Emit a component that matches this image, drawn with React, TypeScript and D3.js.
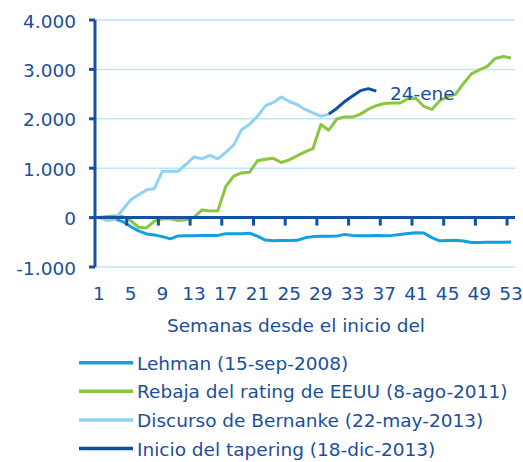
import React, { useRef, useEffect } from 'react'
import * as d3 from 'd3'

// weeks since event start
const weeks = d3.range(1, 54)
const xTickLabels = [1, 5, 9, 13, 17, 21, 25, 29, 33, 37, 41, 45, 49, 53]
const yTicks = [-1000, 0, 1000, 2000, 3000, 4000]

const lehman = [
  0, -15, -25, -80, -180, -270, -330, -350, -385, -430,
  -370, -365, -365, -360, -360, -360, -325, -325, -325, -315,
  -375, -455, -470, -465, -465, -460, -410, -385, -380, -380,
  -375, -340, -360, -365, -365, -360, -365, -360, -340, -320,
  -305, -312, -405, -470, -465, -460, -475, -505, -505, -500,
  -500, -498, -495
]
const rebaja = [
  0, 20, 35, 20, -60, -195, -210, -70, -25, -25,
  -60, -45, 5, 155, 135, 140, 630, 840, 905, 920,
  1150, 1180, 1200, 1115, 1170, 1250, 1330, 1395, 1885, 1770,
  1995, 2035, 2035, 2095, 2195, 2265, 2310, 2320, 2320, 2405,
  2415, 2250, 2190, 2365, 2450, 2495, 2715, 2910, 2990, 3060,
  3220, 3260, 3230
]
const bernanke = [
  0, -60, -40, 160, 360, 460, 560, 590, 940, 940,
  940, 1080, 1230, 1190, 1260, 1190, 1320, 1470, 1780, 1890,
  2050, 2260, 2330, 2440, 2350, 2290, 2190, 2120, 2050, 2095
]
// tapering starts at week 30
const taperingStart = 30
const tapering = [2095, 2210, 2350, 2460, 2570, 2610, 2560]

const seriesNames = [
  'Lehman (15-sep-2008)',
  'Rebaja del rating de EEUU (8-ago-2011)',
  'Discurso de Bernanke (22-may-2013)',
  'Inicio del tapering (18-dic-2013)'
]
const colors = ['#13a0de', '#8cc63f', '#8fd2f4', '#0f4f9f']

const textColor = '#1b4f9c'
const font = '"DejaVu Sans", sans-serif'
const fs = 18.5

const App = () => {
  const ref = useRef()

  useEffect(() => {
    const svg = d3.select(ref.current)
    svg.selectAll('*').remove()

    const x = d3.scaleBand().domain(weeks).range([95, 515]).paddingInner(0).paddingOuter(0)
    const y = d3.scaleLinear().domain([-1000, 4000]).range([267, 20])
    const cx = w => x(w) + x.bandwidth() / 2

    const es = d3.formatLocale({ decimal: ',', thousands: '.', grouping: [3], currency: ['', '€'], minus: '-' })
    const fmt = es.format(',d')

    // gridlines
    svg.append('g')
      .selectAll('line')
      .data(yTicks.filter(d => d !== 0))
      .enter()
      .append('line')
      .attr('x1', 95).attr('x2', 515)
      .attr('y1', d => y(d)).attr('y2', d => y(d))
      .attr('stroke', '#bfe6f8')
      .attr('stroke-width', 1.5)

    // y axis labels
    svg.append('g')
      .selectAll('text')
      .data(yTicks)
      .enter()
      .append('text')
      .attr('x', 76)
      .attr('y', d => y(d) + 7.5)
      .attr('text-anchor', 'end')
      .attr('font-family', font)
      .attr('font-size', fs)
      .attr('fill', textColor)
      .text(d => fmt(d))

    // x labels
    svg.append('g')
      .selectAll('text')
      .data(xTickLabels)
      .enter()
      .append('text')
      .attr('x', d => cx(d))
      .attr('y', 300)
      .attr('text-anchor', 'middle')
      .attr('font-family', font)
      .attr('font-size', fs)
      .attr('fill', textColor)
      .text(d => d)

    svg.append('text')
      .attr('x', 296)
      .attr('y', 332)
      .attr('text-anchor', 'middle')
      .attr('font-family', font)
      .attr('font-size', fs)
      .attr('fill', textColor)
      .text('Semanas desde el inicio del')

    // lines
    const line = d3.line()
      .defined(d => d[1] != null)
      .x(d => cx(d[0]))
      .y(d => y(d[1]))

    const data = [
      lehman.map((v, i) => [weeks[i], v]),
      rebaja.map((v, i) => [weeks[i], v]),
      bernanke.map((v, i) => [weeks[i], v]),
      tapering.map((v, i) => [taperingStart + i, v])
    ]

    svg.append('g')
      .selectAll('path')
      .data(data)
      .enter()
      .append('path')
      .attr('d', d => line(d))
      .attr('fill', 'none')
      .attr('stroke', (d, i) => colors[i])
      .attr('stroke-width', 3)
      .attr('stroke-linejoin', 'round')

    // axes
    const axisColor = '#1650a0'
    svg.append('line')
      .attr('x1', 95).attr('x2', 95)
      .attr('y1', y(4000)).attr('y2', y(-1000))
      .attr('stroke', axisColor).attr('stroke-width', 3)
    svg.append('g')
      .selectAll('line')
      .data(yTicks)
      .enter()
      .append('line')
      .attr('x1', 89).attr('x2', 95)
      .attr('y1', d => y(d)).attr('y2', d => y(d))
      .attr('stroke', axisColor).attr('stroke-width', 3)

    svg.append('line')
      .attr('x1', 95).attr('x2', 515)
      .attr('y1', y(0)).attr('y2', y(0))
      .attr('stroke', axisColor).attr('stroke-width', 3)
    svg.append('g')
      .selectAll('line')
      .data(xTickLabels.slice(1))
      .enter()
      .append('line')
      .attr('x1', d => x(d)).attr('x2', d => x(d))
      .attr('y1', y(0)).attr('y2', y(0) + 8)
      .attr('stroke', axisColor).attr('stroke-width', 3)

    // annotation
    svg.append('text')
      .attr('x', 390)
      .attr('y', 100)
      .attr('font-family', font)
      .attr('font-size', fs)
      .attr('fill', textColor)
      .text('24-ene')

    // legend
    const lg = svg.append('g')
      .selectAll('g')
      .data(seriesNames)
      .enter()
      .append('g')
      .attr('transform', (d, i) => `translate(0, ${362.7 + i * 28.6})`)
    lg.append('line')
      .attr('x1', 79).attr('x2', 133)
      .attr('stroke', (d, i) => colors[i])
      .attr('stroke-width', 3.5)
    lg.append('text')
      .attr('x', 137)
      .attr('y', 7)
      .attr('font-family', font)
      .attr('font-size', fs)
      .attr('fill', textColor)
      .text(d => d)
  }, [])

  return (
    <svg ref={ref} width={523} height={462} style={{ position: 'absolute', left: 0, top: 0 }} />
  )
}

export default App
